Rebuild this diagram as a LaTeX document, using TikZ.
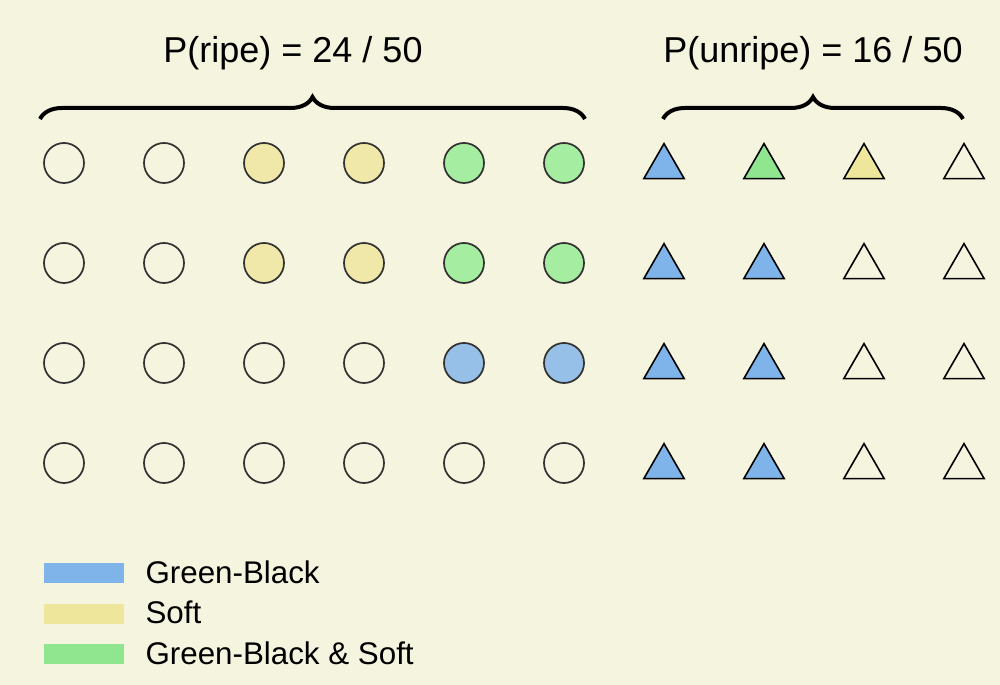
\documentclass[tikz,border=0pt]{standalone}
\usepackage{fontspec}
\setmainfont{Liberation Sans}
\usetikzlibrary{shapes.geometric,positioning,calc,decorations.pathreplacing}

\definecolor{paper}{HTML}{F5F5DF}
\definecolor{rim}{HTML}{333333}
\definecolor{ballw}{HTML}{F5F5DF}
\definecolor{bally}{HTML}{F0E8A8}
\definecolor{ballg}{HTML}{A5EDA0}
\definecolor{ballb}{HTML}{96C0E8}
\definecolor{conew}{HTML}{F5F5DF}
\definecolor{coney}{HTML}{EEE69A}
\definecolor{coneg}{HTML}{8FE68F}
\definecolor{coneb}{HTML}{7FB4EA}

\tikzset{
  ball/.style={circle, draw=rim, line width=1.3pt, minimum size=30pt, inner sep=0pt},
  cone/.style={regular polygon, regular polygon sides=3, draw=black, line width=1.2pt,
               minimum size=35pt, inner sep=0pt},
  swatch/.style={rectangle, minimum width=60pt, minimum height=15pt, inner sep=0pt},
  legtext/.style={font=\fontsize{23.5}{28}\selectfont, inner sep=0pt},
  ptitle/.style={font=\fontsize{27}{32}\selectfont, inner sep=0pt},
  bracket/.style={decorate, decoration={brace, amplitude=16.5pt}, line width=3pt}
}

\begin{document}
\begin{tikzpicture}[x=0.75pt, y=0.75pt]
  \fill[paper] (0,0) rectangle (1000,685);

  % ripe fruit: circles
  \foreach \row/\fills in {1/{w,w,y,y,g,g}, 2/{w,w,y,y,g,g}, 3/{w,w,w,w,b,b}, 4/{w,w,w,w,w,w}}{
    \foreach \f [count=\i] in \fills {
      \node[ball, fill=ball\f] (c-\row-\i) at ({64+100*(\i-1)}, {622-100*\row}) {};
    }
  }
  % unripe fruit: triangles
  \foreach \row/\fills in {1/{b,g,y,w}, 2/{b,b,w,w}, 3/{b,b,w,w}, 4/{b,b,w,w}}{
    \foreach \f [count=\i] in \fills {
      \node[cone, fill=cone\f] (t-\row-\i) at ({664+100*(\i-1)}, {618-100*\row}) {};
    }
  }

  % braces and probabilities
  \coordinate (ripeL) at (40,566);
  \coordinate (ripeR) at (585,566);
  \coordinate (unripeL) at (663,566);
  \coordinate (unripeR) at (963,566);
  \draw[bracket] (ripeL) -- (ripeR);
  \draw[bracket] (unripeL) -- (unripeR);
  \node[ptitle, anchor=base] (pripe) at (293,622) {P(ripe) = 24 / 50};
  \node[ptitle, anchor=base] (punripe) at (813,622) {P(unripe) = 16 / 50};

  % legend
  \node[swatch, fill=coneb] (sw-gb) at (84,112) {};
  \node[swatch, fill=coney, below=15pt of sw-gb] (sw-soft) {};
  \node[swatch, fill=coneg, below=15pt of sw-soft] (sw-both) {};
  \node[legtext, anchor=base west] (lab-gb) at ($(sw-gb.south east)+(21,0)$) {Green-Black};
  \node[legtext, anchor=base west] (lab-soft) at ($(sw-soft.south east)+(21,0)$) {Soft};
  \node[legtext, anchor=base west] (lab-both) at ($(sw-both.south east)+(21,0)$) {Green-Black \& Soft};
\end{tikzpicture}
\end{document}
